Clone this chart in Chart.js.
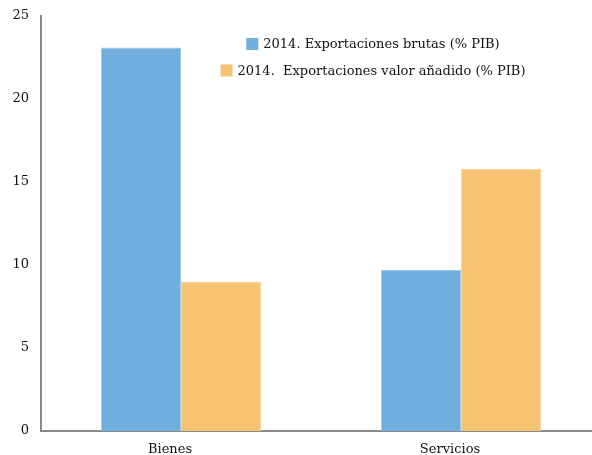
<!DOCTYPE html>
<html>
<head>
<meta charset="utf-8">
<script src="https://cdn.jsdelivr.net/npm/chart.js@4"></script>
<style>
    html, body { margin: 0; padding: 0; background: #fff; }
    #wrap { width: 592px; height: 455px; overflow: hidden; }
</style>
</head>
<body>
<div id="wrap"><canvas id="exportChart" width="610" height="455"></canvas></div>
<script>
// Datos
const categories = ['Bienes', 'Servicios'];
const brutas = [23.1, 9.7];
const valorAnadido = [9.0, 15.8];
const yTicks = [0, 5, 10, 15, 20, 25];

const FONT = "'DejaVu Serif', serif";

// leyenda centrada en dos filas, como en el original
const rowLegend = {
    id: 'rowLegend',
    afterDraw(chart) {
        const c = chart.ctx;
        const cx = 373;
        const rows = [44, 70.5];
        c.save();
        c.font = '13px ' + FONT;
        c.textBaseline = 'middle';
        chart.data.datasets.forEach((ds, i) => {
            const w = 12 + 5 + c.measureText(ds.label).width;
            const x0 = cx - w / 2;
            const y = rows[i];
            c.fillStyle = ds.backgroundColor;
            c.fillRect(x0, y - 6, 12, 12);
            c.fillStyle = '#111';
            c.fillText(ds.label, x0 + 17, y + 1);
        });
        c.restore();
    }
};

document.addEventListener('DOMContentLoaded', () => {
    const ctx = document.getElementById('exportChart');

    new Chart(ctx, {
        type: 'bar',
        data: {
            labels: categories,
            datasets: [{
                label: '2014. Exportaciones brutas (% PIB)',
                data: brutas,
                backgroundColor: '#70AEDE',
                borderColor: '#9CC8EA',
                borderWidth: 1,
                categoryPercentage: 0.5714,
                barPercentage: 1
            }, {
                label: '2014.  Exportaciones valor añadido (% PIB)',
                data: valorAnadido,
                backgroundColor: '#F5C372',
                borderColor: '#F8D69E',
                borderWidth: 1,
                categoryPercentage: 0.5714,
                barPercentage: 1
            }]
        },
        options: {
            responsive: false,
            animation: false,
            layout: {
                padding: { top: 16, right: 9, left: 0, bottom: 0 }
            },
            plugins: {
                legend: { display: false },
                tooltip: { enabled: false }
            },
            scales: {
                y: {
                    min: 0,
                    max: 25,
                    afterFit: (s) => { s.width = 41; s.paddingTop = 0; s.paddingBottom = 0; },
                    afterBuildTicks: (s) => { s.ticks = yTicks.map(v => ({ value: v })); },
                    grid: { display: false, drawTicks: false },
                    border: { color: '#8a8a8a', width: 2 },
                    ticks: {
                        color: '#111',
                        padding: 12,
                        font: { family: FONT, size: 13 }
                    }
                },
                x: {
                    afterFit: (s) => { s.height = 24; s.paddingLeft = 0; s.paddingRight = 0; },
                    grid: { display: false, drawTicks: false },
                    border: { color: '#8a8a8a', width: 2 },
                    ticks: {
                        color: '#111',
                        padding: 11,
                        labelOffset: -11,
                        font: { family: FONT, size: 13 }
                    }
                }
            }
        },
        plugins: [rowLegend]
    });
});
</script>
</body>
</html>
